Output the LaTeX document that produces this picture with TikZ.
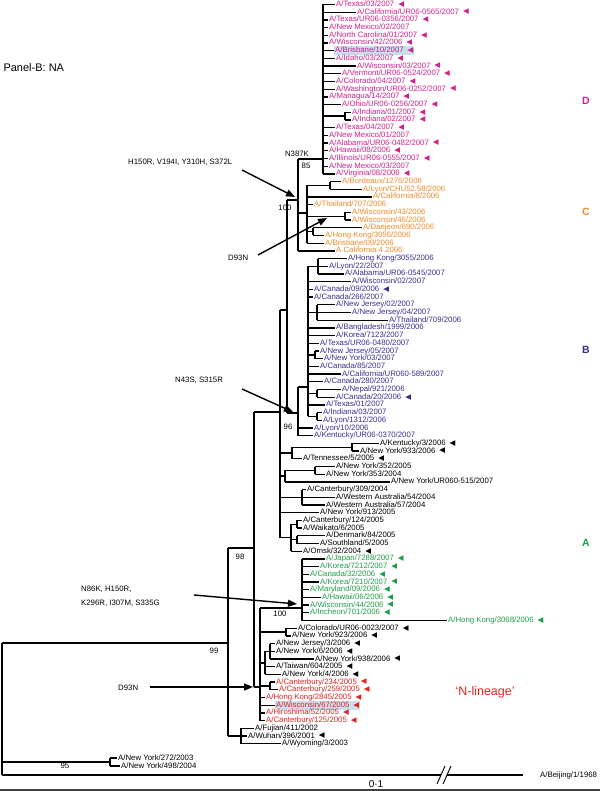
\documentclass[tikz,border=0pt]{standalone}
\usepackage{fontspec}
\setmainfont{Liberation Sans}
\newfontfamily\symf{DejaVu Sans}
\usetikzlibrary{arrows.meta}

\definecolor{cD}{HTML}{D0208C}
\definecolor{cC}{HTML}{EE8A2C}
\definecolor{cB}{HTML}{372F8E}
\definecolor{cA}{HTML}{1E9E48}
\definecolor{cR}{HTML}{E2231F}
\definecolor{hl}{HTML}{C8DEEB}

\newcommand\lf{\fontsize{7.8}{8}\selectfont}
\newcommand\mk{\hspace{4pt}{\symf\fontsize{7.5}{7}\selectfont\raisebox{0.2pt}{◀}}}
% leaf: [opts]{name}{parent}{x}{row}{label}
\newcommand\leaf[6][]{%
  \node[lbl,#1] (#2) at (#4,{4.5+7.7*(#5-1)}) {#6};
  \draw[br] (#2.west -| #3) -- (#2.west);}
% clade: {node}{first child}{last child}{parent}
\newcommand\clade[4]{%
  \draw[br] (#2 -| #1) -- (#3 -| #1);
  \draw[br] (#1) -- (#1 -| #4);}

\tikzset{
  br/.style={line width=1.3pt},
  lbl/.style={anchor=west,inner sep=1pt,font=\lf,text height=5.6pt,text depth=1.6pt},
  bs/.style={font=\lf,inner sep=0pt},
  mut/.style={line width=1.4pt,-{Triangle[length=9pt,width=7pt]}},
  grp/.style={font=\fontsize{10.5}{12}\selectfont\bfseries}
}

\begin{document}
\begin{tikzpicture}[x=1pt,y=-1pt]
\useasboundingbox (0,0) rectangle (600,791);

% inner nodes
\coordinate (rt) at (2,643);
\coordinate (n99) at (228,643);
\coordinate (n98) at (254,548);
\coordinate (nUp) at (280,412);
\coordinate (n100) at (287,310);
\coordinate (nCD) at (298,200);
\coordinate (nD) at (323,159);
\coordinate (nInd) at (345,116.15);
\coordinate (nC) at (307,213);
\coordinate (nBord) at (330,185.45);
\coordinate (nWis) at (345,216.25);
\coordinate (nDae) at (313,231.65);
\coordinate (n96) at (298,413);
\coordinate (nB) at (308,387);
\coordinate (nHK) at (318,266.3);
\coordinate (nNJ) at (317,312.5);
\coordinate (nNY3) at (315,354.85);
\coordinate (nNep) at (317,393.35);
\coordinate (nLy) at (317,416.45);
\coordinate (nKy) at (292,453);
\coordinate (nKy2) at (352,447.25);
\coordinate (nNY35) at (285,476.1);
\coordinate (nNY35b) at (315,470.35);
\coordinate (nCant) at (302,497.3);
\coordinate (nA2) at (291,537.7);
\coordinate (nCW) at (297,524.25);
\coordinate (nDS) at (297,539.65);
\coordinate (nL) at (260,687);
\coordinate (nG) at (302,608);
\coordinate (nCo) at (286,632.05);
\coordinate (nG1) at (265,662.85);
\coordinate (nG2) at (270,651.3);
\coordinate (nCa) at (270,686);
\coordinate (nF) at (241,736);
\coordinate (nNY) at (110,762);

% D
\begin{scope}[nodes={text=cD}]
\leaf{d1}{nD}{335}{1}{A/Texas/03/2007\mk}
\leaf{d2}{nD}{356}{2}{A/California/UR06-0565/2007\mk}
\leaf{d3}{nD}{328}{3}{A/Texas/UR06-0356/2007\mk}
\leaf{d4}{nD}{328}{4}{A/New Mexico/02/2007}
\leaf{d5}{nD}{328}{5}{A/North Carolina/01/2007\mk}
\leaf{d6}{nD}{328}{6}{A/Wisconsin/42/2006\mk}
\leaf[fill=hl]{d7}{nD}{334}{7}{A/Brisbane/10/2007\mk}
\leaf{d8}{nD}{335}{8}{A/Idaho/03/2007\mk}
\leaf{d9}{nD}{356}{9}{A/Wisconsin/03/2007\mk}
\leaf{d10}{nD}{341}{10}{A/Vermont/UR06-0524/2007\mk}
\leaf{d11}{nD}{335}{11}{A/Colorado/04/2007\mk}
\leaf{d12}{nD}{335}{12}{A/Washington/UR06-0252/2007\mk}
\leaf{d13}{nD}{328}{13}{A/Managua/14/2007\mk}
\leaf{d14}{nD}{341}{14}{A/Ohio/UR06-0256/2007\mk}
\leaf{d15}{nInd}{351}{15}{A/Indiana/01/2007\mk}
\leaf{d16}{nInd}{351}{16}{A/Indiana/02/2007\mk}
\leaf{d17}{nD}{335}{17}{A/Texas/04/2007\mk}
\leaf{d18}{nD}{328}{18}{A/New Mexico/01/2007}
\leaf{d19}{nD}{328}{19}{A/Alabama/UR06-0482/2007\mk}
\leaf{d20}{nD}{328}{20}{A/Hawaii/08/2006\mk}
\leaf{d21}{nD}{328}{21}{A/Illinois/UR06-0555/2007\mk}
\leaf{d22}{nD}{328}{22}{A/New Mexico/03/2007}
\leaf{d23}{nD}{335}{23}{A/Virginia/08/2006\mk}
\end{scope}

% C
\begin{scope}[nodes={text=cC}]
\leaf{c1}{nBord}{341}{24}{A/Bordeaux/1276/2006}
\leaf{c2}{nBord}{362}{25}{A/Lyon/CHU52.58/2006}
\leaf{c3}{nC}{372}{26}{A/California/8/2006}
\leaf{c4}{nC}{313}{27}{A/Thailand/707/2006}
\leaf{c5}{nWis}{351}{28}{A/Wisconsin/43/2006}
\leaf{c6}{nWis}{351}{29}{A/Wisconsin/46/2006}
\leaf{c7}{nDae}{362}{30}{A/Daejeon/690/2006}
\leaf{c8}{nDae}{324}{31}{A/Hong Kong/3056/2006}
\leaf{c9}{nC}{324}{32}{A/Brisbane/09/2006}
\leaf{c10}{nCD}{335}{33}{A California 4 2006}
\end{scope}

% B
\begin{scope}[nodes={text=cB}]
\leaf{b1}{nHK}{347}{34}{A/Hong Kong/3055/2006}
\leaf{b2}{nHK}{328}{35}{A/Lyon/22/2007}
\leaf{b3}{nHK}{344}{36}{A/Alabama/UR06-0545/2007}
\leaf{b4}{nB}{351}{37}{A/Wisconsin/02/2007}
\leaf{b5}{nB}{313}{38}{A/Canada/09/2006\mk}
\leaf{b6}{nB}{313}{39}{A/Canada/266/2007}
\leaf{b7}{nNJ}{335}{40}{A/New Jersey/02/2007}
\leaf{b8}{nNJ}{351}{41}{A/New Jersey/04/2007}
\leaf{b9}{nNJ}{388}{42}{A/Thailand/709/2006}
\leaf{b10}{nB}{335}{43}{A/Bangladesh/1999/2006}
\leaf{b11}{nB}{335}{44}{A/Korea/7123/2007}
\leaf{b12}{nB}{319}{45}{A/Texas/UR06-0480/2007}
\leaf{b13}{nNY3}{319}{46}{A/New Jersey/05/2007}
\leaf{b14}{nNY3}{323}{47}{A/New York/03/2007}
\leaf{b15}{nB}{319}{48}{A/Canada/85/2007}
\leaf{b16}{nB}{341}{49}{A/California/UR060-589/2007}
\leaf{b17}{nB}{323}{50}{A/Canada/280/2007}
\leaf{b18}{nNep}{341}{51}{A/Nepal/921/2006}
\leaf{b19}{nNep}{335}{52}{A/Canada/20/2006\mk}
\leaf{b20}{nB}{325}{53}{A/Texas/01/2007}
\leaf{b21}{nLy}{322}{54}{A/Indiana/03/2007}
\leaf{b22}{nLy}{322}{55}{A/Lyon/1312/2006}
\leaf{b23}{n96}{313}{56}{A/Lyon/10/2006}
\leaf{b24}{n96}{313}{57}{A/Kentucky/UR06-0370/2007}
\end{scope}

% A
\leaf{a1}{nKy2}{379}{58}{A/Kentucky/3/2006\mk}
\leaf{a2}{nKy2}{359}{59}{A/New York/933/2006\mk}
\leaf{a3}{nKy}{302}{60}{A/Tennessee/5/2005\mk}
\leaf{a4}{nNY35b}{335}{61}{A/New York/352/2005}
\leaf{a5}{nNY35b}{325}{62}{A/New York/353/2004}
\leaf{a6}{nNY35}{390}{63}{A/New York/UR060-515/2007}
\leaf{a7}{nCant}{306}{64}{A/Canterbury/309/2004}
\leaf{a8}{nCant}{335}{65}{A/Western Australia/54/2004}
\leaf{a9}{nCant}{325}{66}{A/Western Australia/57/2004}
\leaf{a10}{nUp}{319}{67}{A/New York/913/2005}
\leaf{a11}{nCW}{302}{68}{A/Canterbury/124/2005}
\leaf{a12}{nCW}{302}{69}{A/Waikato/6/2005}
\leaf{a13}{nDS}{325}{70}{A/Denmark/84/2005}
\leaf{a14}{nDS}{319}{71}{A/Southland/5/2005}
\leaf{a15}{nA2}{302}{72}{A/Omsk/32/2004\mk}

\begin{scope}[nodes={text=cA}]
\leaf{g1}{nG}{325}{73}{A/Japan/7288/2007\mk}
\leaf{g2}{nG}{319}{74}{A/Korea/7212/2007\mk}
\leaf{g3}{nG}{309}{75}{A/Canada/32/2006\mk}
\leaf{g4}{nG}{319}{76}{A/Korea/7210/2007\mk}
\leaf{g5}{nG}{309}{77}{A/Maryland/09/2006\mk}
\leaf{g6}{nG}{321}{78}{A/Hawaii/06/2006\mk}
\leaf{g7}{nG}{309}{79}{A/Wisconsin/44/2006\mk}
\leaf{g8}{nG}{309}{80}{A/Incheon/701/2006\mk}
\leaf{g9}{nG}{447}{81}{A/Hong Kong/3068/2006\mk}
\end{scope}

\leaf{k1}{nCo}{297}{82}{A/Colorado/UR06-0023/2007\mk}
\leaf{k2}{nCo}{291}{83}{A/New York/923/2006\mk}
\leaf{k3}{nG2}{275}{84}{A/New Jersey/3/2006\mk}
\leaf{k4}{nG2}{275}{85}{A/New York/6/2006\mk}
\leaf{k5}{nG2}{314}{86}{A/New York/938/2006\mk}
\leaf{k6}{nG1}{275}{87}{A/Taiwan/604/2005\mk}
\leaf{k7}{nG1}{281}{88}{A/New York/4/2006\mk}

\begin{scope}[nodes={text=cR}]
\leaf{r1}{nCa}{275}{89}{A/Canterbury/234/2005\mk}
\leaf{r2}{nCa}{278}{90}{A/Canterbury/259/2005\mk}
\leaf{r3}{nL}{265}{91}{A/Hong Kong/2845/2005\mk}
\leaf[fill=hl]{r4}{nL}{275}{92}{A/Wisconsin/67/2005\mk}
\leaf{r5}{nL}{265}{93}{A/Hiroshima/52/2005\mk}
\leaf{r6}{nL}{265}{94}{A/Canterbury/125/2005\mk}
\end{scope}

\leaf{f1}{nF}{254}{95}{A/Fujian/411/2002}
\leaf{f2}{nF}{247}{96}{A/Wuhan/396/2001\mk}
\leaf{f3}{nF}{281}{97}{A/Wyoming/3/2003}

\node[lbl] (y1) at (117,758) {A/New York/272/2003};
\node[lbl] (y2) at (120,766) {A/New York/498/2004};
\draw[br] (y1.west -| nNY) -- (y1.west);
\draw[br] (y2.west -| nNY) -- (y2.west);
\node[lbl] (bj) at (539,775) {A/Beijing/1/1968};

% inner branches
\clade{nD}{d1.west}{d23.west}{nCD}
\clade{nInd}{d15.west}{d16.west}{nD}
\clade{nBord}{c1.west}{c2.west}{nC}
\clade{nWis}{c5.west}{c6.west}{nC}
\clade{nDae}{c7.west}{c8.west}{nC}
\clade{nC}{nBord}{c9.west}{nCD}
\clade{nCD}{nD}{c10.west}{n100}
\clade{nHK}{b1.west}{b3.west}{nB}
\clade{nNJ}{b7.west}{b9.west}{nB}
\clade{nNY3}{b13.west}{b14.west}{nB}
\clade{nNep}{b18.west}{b19.west}{nB}
\clade{nLy}{b21.west}{b22.west}{nB}
\clade{nB}{nHK}{nLy}{n96}
\clade{n96}{nB}{b24.west}{n100}
\clade{n100}{nCD}{n96}{nUp}
\clade{nKy2}{a1.west}{a2.west}{nKy}
\clade{nKy}{nKy2}{a3.west}{nUp}
\clade{nNY35b}{a4.west}{a5.west}{nNY35}
\clade{nNY35}{nNY35b}{a6.west}{nUp}
\clade{nCant}{a7.west}{a9.west}{nUp}
\clade{nCW}{a11.west}{a12.west}{nA2}
\clade{nDS}{a13.west}{a14.west}{nA2}
\clade{nA2}{nCW}{a15.west}{nUp}
\clade{nUp}{n100}{nA2}{n98}
\clade{nG}{g1.west}{g9.west}{nL}
\clade{nCo}{k1.west}{k2.west}{nL}
\clade{nG2}{k3.west}{k5.west}{nG1}
\clade{nG1}{nG2}{k7.west}{nL}
\clade{nCa}{r1.west}{r2.west}{nL}
\clade{nL}{nG}{r6.west}{n98}
\clade{n98}{nUp}{nL}{n99}
\clade{nF}{f1.west}{f3.west}{n99}
\clade{n99}{n98}{nF}{rt}
\clade{nNY}{y1.west}{y2.west}{rt}
\draw[br] (n99 -| rt) -- (bj.west -| rt);
\draw[br] (bj.west -| rt) -- ([xshift=-16pt]bj.west);
\fill[white] (437,784) -- (445,766) -- (451,766) -- (443,784) -- cycle;
\draw[line width=0.9pt] (437,784) -- (445,766) (443,784) -- (451,766);

% support values
\node[bs] (mK) at (297,154) {N387K};
\node[bs] (bs85) at (306,166) {85};
\node[bs] (bs100a) at (285,208) {100};
\node[bs] (bs96) at (288,427) {96};
\node[bs] (bs98) at (240,557) {98};
\node[bs] (bs100b) at (280,614) {100};
\node[bs] (bs99) at (214,651) {99};
\node[bs] (bs95) at (65,766) {95};

% mutations
\node[lbl] (mH) at (127,163) {H150R, V194I, Y310H, S372L};
\node[lbl] (mD1) at (227,259) {D93N};
\node[lbl] (mN) at (174,380) {N43S, S315R};
\node[lbl] (mK1) at (80,589) {N86K, H150R,};
\node[lbl] (mK2) at (80,603) {K296R, I307M, S335G};
\node[lbl] (mD2) at (117,688) {D93N};
\coordinate (aH) at (242,170); \coordinate (tH) at (295,197);
\coordinate (aD1) at (258,255); \coordinate (tD1) at (327,218);
\coordinate (aN) at (242,389); \coordinate (tN) at (293,412);
\coordinate (aK) at (194,595); \coordinate (tK) at (297,604);
\coordinate (aD2) at (150,687); \coordinate (tD2) at (253,687);
\draw[mut] (aH) -- (tH);
\draw[mut] (aD1) -- (tD1);
\draw[mut] (aN) -- (tN);
\draw[mut] (aK) -- (tK);
\draw[mut] (aD2) -- (tD2);

% groups
\node[grp,text=cD] (gD) at (586,101) {D};
\node[grp,text=cC] (gC) at (586,212) {C};
\node[grp,text=cB] (gB) at (586,350) {B};
\node[grp,text=cA] (gA) at (586,543) {A};
\node[text=cR,anchor=west,font=\fontsize{12.5}{14}\selectfont] (nlin) at (452,692) {`N-lineage'};
\node[anchor=west,font=\fontsize{11}{13}\selectfont] (pan) at (0,68) {Panel-B: NA};
\node[font=\fontsize{10}{12}\selectfont] (sc) at (376,784) {0·1};
\draw[line width=1.8pt,black!75] (0,790) -- (600,790);
\end{tikzpicture}
\end{document}
